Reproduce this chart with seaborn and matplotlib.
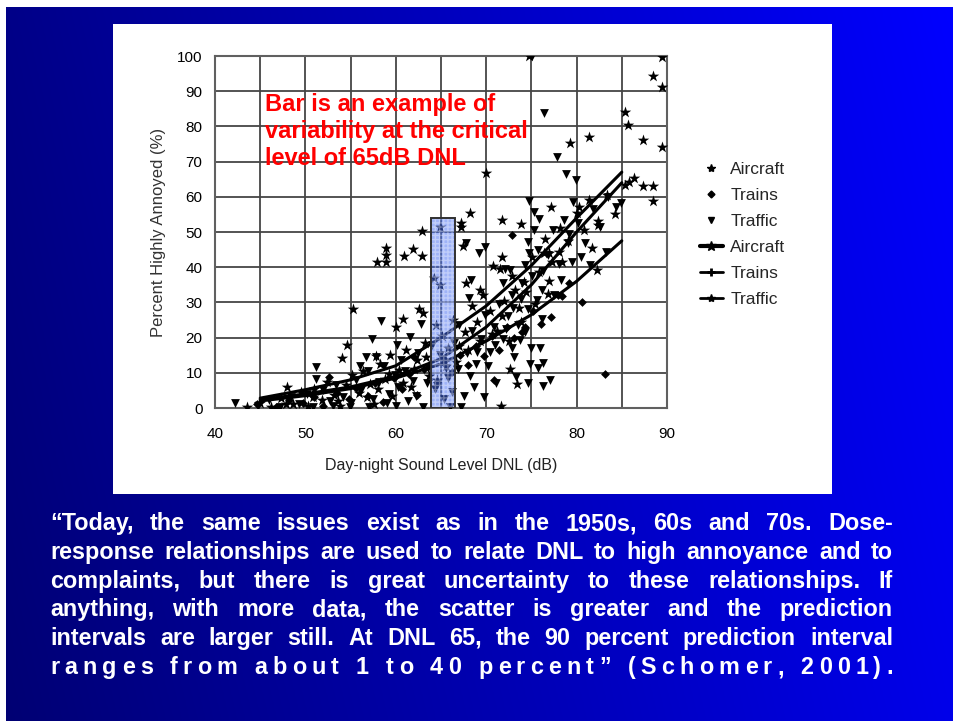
import numpy as np
import pandas as pd
import matplotlib
matplotlib.use("Agg")
import matplotlib.pyplot as plt
from matplotlib.patches import Rectangle
from matplotlib.lines import Line2D
import seaborn as sns

# ---------------- data ----------------
aircraft_x = [74.7, 88.4, 89.4, 89.4, 85.4, 85.7, 81.4, 79.3, 87.3, 89.4, 70.0, 86.3, 85.8, 85.4,
              87.4, 88.4, 88.4, 77.2, 81.4, 80.3, 68.2, 71.7, 73.8, 82.4, 82.4, 67.2, 67.2, 62.9,
              64.9, 58.9, 58.9, 58.9, 57.9, 60.9, 61.9, 62.9, 67.4, 71.8, 82.3, 55.3, 54.6, 54.1,
              48.0, 62.6, 63.0, 60.0, 60.8, 59.4, 57.8, 67.8, 64.2, 64.9, 69.3, 70.8, 71.5, 76.4,
              76.9, 78.0, 78.4, 74.2, 73.2, 76.8, 72.6, 73.4, 71.6, 43.5,
              45.0, 46.2, 47.3, 48.6, 49.5, 50.3, 51.0, 51.8, 52.4, 53.2, 53.8, 54.5, 55.2, 55.9,
              56.4, 57.1, 57.6, 58.3, 58.8, 59.6, 60.3, 61.1, 61.7, 62.4, 63.2, 63.7, 64.4, 65.1,
              65.6, 66.3, 67.0, 67.6, 68.4, 69.0, 69.7, 70.4, 71.2, 72.0, 72.8, 73.6, 74.4, 75.1,
              75.8, 76.5, 77.3, 78.2, 79.1, 80.0, 80.8, 81.7, 83.4, 84.2,
              56.8, 58.0, 59.2, 60.8, 62.0, 63.3, 64.6, 65.8, 66.7, 68.0, 69.3, 70.6, 71.8, 72.5,
              73.9, 75.4, 76.9, 47.9, 50.8, 53.6]
aircraft_y = [100.0, 94.3, 91.3, 99.8, 84.0, 80.4, 77.1, 75.2, 76.1, 74.2, 66.9, 65.4, 64.3, 63.4,
              63.1, 63.1, 58.9, 57.2, 59.1, 57.2, 55.3, 53.4, 52.3, 53.2, 52.0, 52.5, 51.3, 50.4,
              51.3, 45.4, 43.5, 41.4, 41.4, 43.2, 45.2, 43.2, 46.0, 42.8, 39.2, 28.0, 17.9, 14.3,
              6.0, 28.0, 27.0, 23.0, 25.2, 15.0, 14.8, 35.6, 36.9, 35.0, 33.5, 40.3, 39.4, 44.1,
              44.1, 44.4, 41.6, 35.9, 33.5, 32.4, 11.0, 6.8, 0.5, 0.3,
              1.5, 0.4, 2.8, 1.2, 4.5, 0.6, 5.5, 2.4, 7.5, 3.8, 0.5, 6.5, 9.5, 4.2,
              10.5, 6.8, 1.0, 12.5, 8.2, 3.5, 10.8, 16.5, 6.0, 13.5, 18.5, 9.0, 23.5, 20.5,
              12.0, 25.0, 17.5, 21.5, 29.0, 24.5, 32.0, 27.5, 22.0, 30.5, 37.5, 28.5, 33.0, 43.0,
              38.5, 48.0, 41.5, 51.0, 47.5, 55.5, 50.5, 45.5, 60.5, 55.0,
              3.0, 5.5, 9.8, 7.2, 11.0, 14.5, 8.0, 17.0, 13.0, 16.5, 19.0, 21.0, 26.0, 19.0,
              24.5, 29.5, 36.0, 1.0, 3.2, 2.0]

trains_x = [72.9, 78.4, 80.6, 77.2, 74.3, 83.1, 52.6, 44.6, 46.8, 48.2, 49.7, 50.9, 52.0, 53.5,
            54.8, 55.6, 56.9, 57.7, 58.6, 59.8, 60.7, 61.5, 62.3, 63.1, 64.6, 65.4, 66.2, 67.1,
            68.0, 68.9, 69.8, 70.6, 71.4, 72.3, 73.1, 74.0, 75.2, 76.1, 77.9, 79.2, 70.9, 62.0]
trains_y = [49.1, 31.8, 30.2, 25.8, 22.9, 9.6, 8.9, 1.0, 0.4, 2.2, 1.5, 3.0, 0.6, 4.2,
            2.5, 5.8, 3.4, 7.0, 1.8, 8.5, 5.5, 9.8, 3.6, 11.0, 7.5, 13.5, 10.2, 15.0,
            12.2, 17.5, 14.8, 20.5, 16.5, 23.0, 19.8, 21.5, 27.5, 24.0, 32.0, 35.5, 8.0, 14.5]

traffic_x = [75.1, 76.4, 77.8, 78.8, 79.9, 84.9, 74.7, 75.3, 75.8, 79.6, 75.3, 67.8, 69.9, 69.2,
             72.1, 71.9, 68.3, 68.1, 74.6, 74.7, 79.1, 79.5, 72.6, 74.3, 76.3, 75.6, 76.2, 73.7,
             72.8, 75.0, 76.0, 73.1, 74.8, 75.7, 76.3, 73.3, 74.6, 76.3, 77.1, 83.3, 71.1, 69.8,
             68.6, 58.4, 57.4, 62.8, 61.6, 60.1, 56.7, 51.2, 51.2, 42.2,
             44.8, 46.0, 47.2, 48.4, 49.3, 50.2, 50.8, 51.9, 52.7, 53.4, 54.2, 54.9, 55.6, 56.2,
             56.9, 57.5, 58.1, 58.7, 59.3, 59.9, 60.6, 61.3, 61.9, 62.5, 63.0, 63.6, 64.3, 64.9,
             65.3, 65.8, 66.4, 66.9, 67.5, 67.9, 68.4, 68.9, 69.4, 69.9, 70.4, 70.9, 71.4, 71.9,
             72.4, 72.9, 73.5, 74.0, 74.6, 75.1, 75.7, 76.2, 76.8, 77.4, 78.0, 78.6, 79.2, 80.1,
             80.9, 81.8, 82.6, 83.5, 84.4, 53.0, 57.0, 60.0, 66.0, 67.2,
             55.0, 56.0, 57.8, 59.0, 60.2, 61.0, 62.2, 63.4, 64.0, 65.5, 66.2, 67.0, 68.2, 69.0,
             70.2, 71.0, 72.2, 73.0, 73.8, 74.3, 77.5, 78.3, 80.5, 81.5]
traffic_y = [100.0, 83.7, 71.2, 66.5, 64.8, 58.1, 58.9, 55.8, 53.6, 58.6, 50.6, 46.8, 45.8, 44.1,
             39.5, 35.4, 36.4, 31.2, 47.3, 43.9, 46.8, 41.6, 39.2, 40.6, 39.0, 30.7, 25.2, 19.3,
             17.0, 17.0, 17.0, 14.6, 12.4, 11.3, 12.7, 8.9, 7.2, 6.3, 8.0, 44.4, 7.0, 3.2,
             6.0, 24.8, 19.5, 23.8, 20.3, 17.9, 14.6, 11.7, 8.2, 1.4,
             0.5, 2.2, 0.3, 3.0, 1.0, 4.0, 0.2, 5.2, 2.0, 6.5, 3.2, 0.4, 8.0, 5.0,
             10.5, 2.5, 7.5, 12.0, 4.0, 9.5, 13.5, 2.0, 7.8, 15.5, 0.4, 11.5, 5.5, 15.0,
             2.5, 8.5, 18.5, 11.0, 3.5, 15.5, 22.0, 12.5, 19.5, 26.5, 16.0, 23.0, 29.5, 19.5,
             26.0, 32.0, 23.5, 35.5, 28.0, 37.5, 45.0, 33.5, 43.5, 50.5, 41.0, 53.5, 49.5, 52.5,
             47.0, 56.5, 51.5, 60.0, 57.0, 0.5, 0.3, 0.6, 0.3, 0.4,
             1.5, 12.0, 14.5, 1.5, 6.0, 10.5, 3.5, 7.0, 18.0, 11.5, 4.5, 23.5, 9.0, 16.0,
             12.0, 18.0, 22.5, 28.5, 31.0, 21.5, 32.0, 36.5, 43.0, 40.5]

curve_x = [45, 50, 55, 60, 65, 70, 75, 80, 85]
aircraft_curve = [2.8, 5.2, 8.0, 12.0, 20.0, 29.0, 40.5, 54.0, 67.0]
traffic_curve = [2.4, 4.0, 6.0, 9.0, 14.0, 23.0, 35.0, 50.0, 64.0]
trains_curve = [2.0, 3.5, 5.5, 8.5, 12.5, 19.0, 26.5, 36.0, 47.5]

bar_center = [65.25]
bar_height = [54.0]
bar_width = 2.7

legend_labels = ["Aircraft", "Trains", "Traffic", "Aircraft", "Trains", "Traffic"]
note_text = "Bar is an example of\nvariability at the critical\nlevel of 65dB DNL"
paragraph_lines = [
    "\u201cToday, the same issues exist as in the 1950s, 60s and 70s. Dose-",
    "response relationships are used to relate DNL to high annoyance and to",
    "complaints, but there is great uncertainty to these relationships. If",
    "anything, with more data, the scatter is greater and the prediction",
    "intervals are larger still. At DNL 65, the 90 percent prediction interval",
    "ranges from about 1 to 40 percent\u201d (Schomer, 2001).",
]

# ---------------- figure ----------------
sns.set_theme(style="white")
plt.rcParams["font.family"] = ["Liberation Sans", "DejaVu Sans"]

W, H = 954, 721
fig = plt.figure(figsize=(W / 100, H / 100), dpi=100, facecolor="white")

def fx(px):
    return px / W

def fy(py):
    return 1 - py / H

# gradient slide background
bg = fig.add_axes([fx(6), 0, 1 - fx(6), fy(7)])
bg.set_zorder(0)
u = np.linspace(0, 1, 400)[None, :]
v = np.linspace(0, 1, 300)[:, None]  # 0 top -> 1 bottom
t = np.clip(0.85 * u + 0.15 * (1 - v), 0, 1)
img = np.zeros((300, 400, 3))
img[..., 2] = (115 + 140 * t) / 255.0
bg.imshow(img, aspect="auto", extent=[0, 1, 0, 1])
bg.set_axis_off()

# white panel
fig.patches.append(Rectangle((fx(113), fy(494)), fx(832) - fx(113), fy(24) - fy(494),
                             transform=fig.transFigure, facecolor="white",
                             edgecolor="none", zorder=1))

ax = fig.add_axes([fx(215), fy(408), fx(667) - fx(215), fy(56) - fy(408)])
ax.set_zorder(2)
ax.set_facecolor("white")

# scatter
sns.scatterplot(x=aircraft_x, y=aircraft_y, marker="*", s=75, color="black",
                linewidth=0, ax=ax, zorder=3, legend=False)
sns.scatterplot(x=trains_x, y=trains_y, marker="D", s=20, color="black",
                linewidth=0, ax=ax, zorder=3, legend=False)
sns.scatterplot(x=traffic_x, y=traffic_y, marker="v", s=40, color="black",
                linewidth=0, ax=ax, zorder=3, legend=False)

# fitted curves
for cy in (aircraft_curve, traffic_curve, trains_curve):
    sns.lineplot(x=curve_x, y=cy, color="black", linewidth=2.2, ax=ax, zorder=4)

# highlighted bar
ax.bar(bar_center, bar_height, width=bar_width, color=(65/255, 105/255, 241/255, 0.5),
       edgecolor=(1, 1, 1, 0.35), hatch="++++", linewidth=0, zorder=5)
ax.bar(bar_center, bar_height, width=bar_width, fill=False, edgecolor="#303030",
       linewidth=1.4, zorder=6)

ax.set_xlim(40, 90)
ax.set_ylim(0, 100)
ax.set_xticks(range(40, 91, 10))
ax.set_xticks(range(40, 91, 5), minor=True)
ax.set_yticks(range(0, 101, 10))
ax.grid(True, which="both", color="#454545", linewidth=1.3, zorder=0)
ax.set_axisbelow(True)
for sp in ax.spines.values():
    sp.set_color("#606060")
    sp.set_linewidth(1.5)
ax.tick_params(axis="both", which="both", length=0, labelsize=11, colors="black")
ax.tick_params(axis="x", pad=14)
ax.tick_params(axis="y", pad=9)
ax.set_xlabel("Day-night Sound Level DNL (dB)", fontsize=11.5, color="#222222", labelpad=12)
ax.set_ylabel("Percent Highly Annoyed (%)", fontsize=12, color="#333333", labelpad=8)

ax.text(45.5, 89.4, note_text, color="#ff0000", fontsize=17, fontweight="bold",
        va="top", ha="left", linespacing=1.22, zorder=7)

# legend
handles = [
    Line2D([], [], linestyle="none", marker="*", color="black", markersize=6),
    Line2D([], [], linestyle="none", marker="D", color="black", markersize=3.5),
    Line2D([], [], linestyle="none", marker="v", color="black", markersize=5),
    Line2D([], [], color="black", linewidth=3, marker="*", markersize=7),
    Line2D([], [], color="black", linewidth=2, marker="+", markersize=6, markeredgewidth=2),
    Line2D([], [], color="black", linewidth=2, marker="*", markersize=6),
]
fig.legend(handles, legend_labels, loc="upper left", bbox_to_anchor=(fx(693), fy(155)),
           frameon=False, fontsize=12.5, handlelength=1.3, handletextpad=0.45,
           labelspacing=0.62, borderaxespad=0)

# justified paragraph
renderer = fig.canvas.get_renderer()
left_px, right_px = 50, 893
baselines = [530, 559, 588, 616, 645, 674]

def width_of(s, size):
    t = fig.text(0, 0, s, fontsize=size, fontweight="bold")
    w = t.get_window_extent(renderer).width
    t.remove()
    return w

# size so that the widest line keeps some slack in its word gaps
widest = max(paragraph_lines[:-1], key=lambda s: width_of(s, 14.5))
psize = 14.5 * (right_px - left_px - 45) / width_of(widest, 14.5)
pfont = dict(fontsize=psize, fontweight="bold", color="white")

for i, line in enumerate(paragraph_lines):
    yb = fy(baselines[i])
    if i < len(paragraph_lines) - 1:
        words = line.split(" ")
        widths = [width_of(w, psize) for w in words]
        gap = (right_px - left_px - sum(widths)) / (len(words) - 1)
        x = left_px
        for w, wd in zip(words, widths):
            fig.text(fx(x), yb, w, va="baseline", ha="left", **pfont)
            x += wd + gap
    else:
        sp_w = width_of("a a", psize) - width_of("aa", psize)
        chars = list(line)
        widths = [sp_w if c == " " else width_of(c, psize) for c in chars]
        gap = (right_px - left_px - sum(widths)) / (len(chars) - 1)
        x = left_px
        for c, wd in zip(chars, widths):
            if c != " ":
                fig.text(fx(x), yb, c, va="baseline", ha="left", **pfont)
            x += wd + gap

fig.savefig("out.png", dpi=100, facecolor="white")
